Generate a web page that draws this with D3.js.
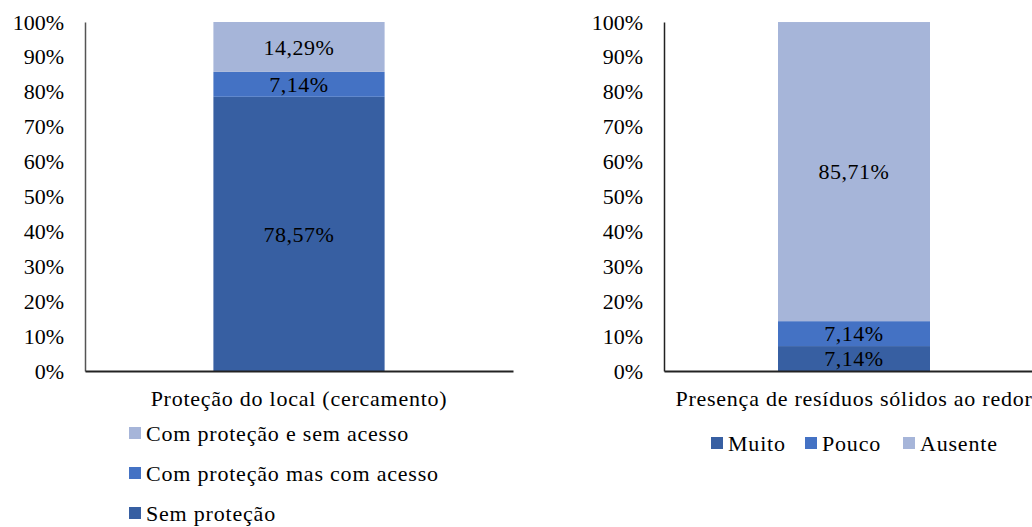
<!DOCTYPE html>
<html>
<head>
<meta charset="utf-8">
<script src="https://cdn.jsdelivr.net/npm/d3@7"></script>
<style>
  body { margin: 0; background: #fff; }
</style>
</head>
<body>
<div id="mainDiv"></div>
<script>
'use strict';

// left chart
var leftCategory = ["Proteção do local (cercamento)"];
var leftSeries = ["Sem proteção", "Com proteção mas com acesso", "Com proteção e sem acesso"];
var leftValues = [78.57, 7.14, 14.29];

// right chart
var rightCategory = ["Presença de resíduos sólidos ao redor"];
var rightSeries = ["Muito", "Pouco", "Ausente"];
var rightValues = [7.14, 7.14, 85.71];

var tickValues = [0, 10, 20, 30, 40, 50, 60, 70, 80, 90, 100];
var colors = ["#375fa2", "#4472c4", "#a6b5d9"];

var FONT = "'Liberation Serif', 'Times New Roman', serif";

var chartApp = {};

chartApp.fmt = function (v) {
    return v.toFixed(2).replace(".", ",") + "%";
};

chartApp.drawChart = function (svg, cfg) {
    var y = d3.scaleLinear().domain([0, 100]).range([371, 22]);
    var x = d3.scaleBand()
        .domain(cfg.category)
        .range([cfg.x0, cfg.x1])
        .paddingInner(0)
        .paddingOuter(0.75);

    var g = svg.append("g");

    // stacked segments
    var stack = [];
    var base = 0;
    cfg.values.forEach(function (v, i) {
        stack.push({ y0: base, y1: base + v, v: v, i: i });
        base += v;
    });

    g.selectAll("rect.seg")
        .data(stack)
        .enter()
        .append("rect")
            .attr("class", "seg")
            .attr("x", x(cfg.category[0]))
            .attr("width", x.bandwidth())
            .attr("y", function (d) { return y(d.y1); })
            .attr("height", function (d) { return y(d.y0) - y(d.y1); })
            .style("fill", function (d) { return colors[d.i]; });

    g.selectAll("text.lbl")
        .data(stack)
        .enter()
        .append("text")
            .attr("class", "lbl")
            .attr("x", x(cfg.category[0]) + x.bandwidth() / 2)
            .attr("y", function (d) { return (y(d.y0) + y(d.y1)) / 2; })
            .attr("dy", "0.35em")
            .attr("text-anchor", "middle")
            .style("font-family", FONT)
            .style("font-size", "22px")
            .style("letter-spacing", "0.5px")
            .style("fill", "#000")
            .text(function (d) { return chartApp.fmt(d.v); });

    // y axis
    var yAxis = d3.axisLeft(y)
        .tickValues(tickValues)
        .tickSize(0)
        .tickPadding(21)
        .tickFormat(function (d) { return d + "%"; });
    var ya = g.append("g")
        .attr("transform", "translate(" + cfg.x0 + ",0)")
        .call(yAxis);
    ya.select(".domain").attr("stroke", cfg.axisColor).attr("stroke-width", 1.5);
    ya.selectAll("text")
        .style("font-family", FONT)
        .style("font-size", "22px")
        .style("fill", "#000");

    // x axis
    var xAxis = d3.axisBottom(x).tickSize(0).tickPadding(19);
    var xa = g.append("g")
        .attr("transform", "translate(0," + y(0) + ")")
        .call(xAxis);
    xa.select(".domain").attr("stroke", "#222").attr("stroke-width", 2);
    xa.selectAll("text")
        .style("font-family", FONT)
        .style("font-size", "22px")
        .style("letter-spacing", "0.75px")
        .style("fill", "#000");

    return g;
};

chartApp.run = function () {
    var svg = d3.select("#mainDiv").append("svg")
        .attr("width", 1032)
        .attr("height", 527);

    chartApp.drawChart(svg, {
        category: leftCategory, values: leftValues,
        x0: 85, x1: 513, axisColor: "#555"
    });
    chartApp.drawChart(svg, {
        category: rightCategory, values: rightValues,
        x0: 664, x1: 1044, axisColor: "#222"
    });

    // left legend (vertical, reversed order)
    var leftLeg = svg.append("g");
    var order = [2, 1, 0];
    order.forEach(function (si, k) {
        var row = leftLeg.append("g").attr("transform", "translate(129," + (433 + k * 40) + ")");
        row.append("rect").attr("x", 0).attr("y", -6).attr("width", 12).attr("height", 12)
            .style("fill", colors[si]);
        row.append("text").attr("x", 17).attr("y", 0).attr("dy", "0.35em")
            .style("font-family", FONT).style("font-size", "22px")
            .style("letter-spacing", "0.8px")
            .text(leftSeries[si]);
    });

    // right legend (horizontal)
    var rightLeg = svg.append("g");
    var legX = [711, 805, 903];
    rightSeries.forEach(function (s, i) {
        var row = rightLeg.append("g").attr("transform", "translate(" + legX[i] + ",443)");
        row.append("rect").attr("x", 0).attr("y", -6).attr("width", 12).attr("height", 12)
            .style("fill", colors[i]);
        row.append("text").attr("x", 17).attr("y", 0).attr("dy", "0.35em")
            .style("font-family", FONT).style("font-size", "22px")
            .style("letter-spacing", "0.8px")
            .text(s);
    });
};

window.onload = chartApp.run;
</script>
</body>
</html>
